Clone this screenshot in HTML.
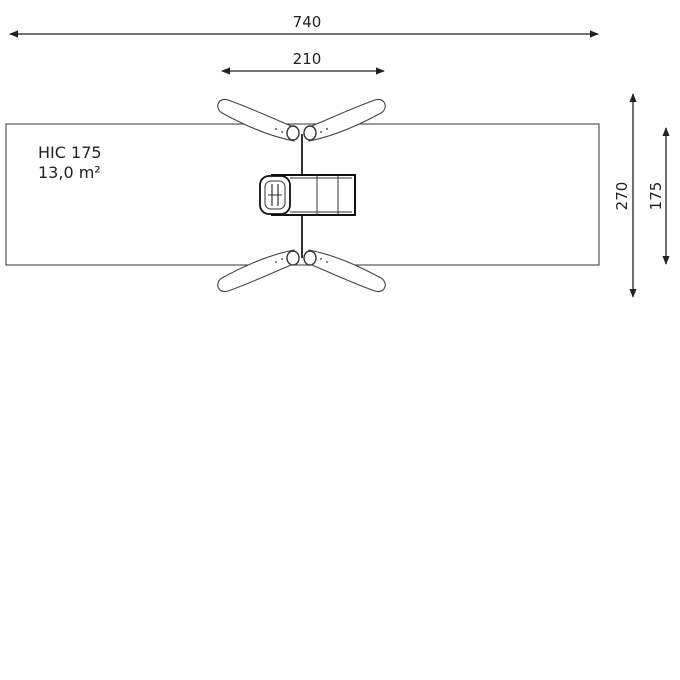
<!DOCTYPE html>
<html><head><meta charset="utf-8"><style>
html,body{margin:0;padding:0;background:#fff;width:680px;height:680px;overflow:hidden}
</style></head><body>
<svg width="680" height="680" viewBox="0 0 680 680" xmlns="http://www.w3.org/2000/svg" font-family="'DejaVu Sans','Liberation Sans',sans-serif">
<defs>
<marker id="a" viewBox="0 0 10 10" refX="9" refY="5" markerWidth="7" markerHeight="7" orient="auto-start-reverse"><path d="M0,1 L10,5 L0,9 Z" fill="#222"/></marker>
<g id="pad">
<path d="M0,-6 C-20,-14 -45,-26 -68,-34 C-78,-37 -82,-26 -74,-21 C-52,-9 -28,2 -2,7 Z" fill="#fff" stroke="#444" stroke-width="1.1"/>
<circle cx="-14" cy="-2" r="0.9" fill="#333"/>
<circle cx="-20" cy="-5" r="0.9" fill="#333"/>
</g>
</defs>
<line x1="10" y1="34" x2="598" y2="34" stroke="#222" stroke-width="1.3" marker-start="url(#a)" marker-end="url(#a)"/>
<text x="307" y="27" font-size="15" text-anchor="middle" fill="#222">740</text>
<line x1="222" y1="71" x2="384" y2="71" stroke="#222" stroke-width="1.3" marker-start="url(#a)" marker-end="url(#a)"/>
<text x="307" y="64" font-size="15" text-anchor="middle" fill="#222">210</text>
<line x1="633" y1="94" x2="633" y2="297" stroke="#222" stroke-width="1.3" marker-start="url(#a)" marker-end="url(#a)"/>
<text transform="translate(627,196) rotate(-90)" font-size="15" text-anchor="middle" fill="#222">270</text>
<line x1="666" y1="128" x2="666" y2="264" stroke="#222" stroke-width="1.3" marker-start="url(#a)" marker-end="url(#a)"/>
<text transform="translate(661,196) rotate(-90)" font-size="15" text-anchor="middle" fill="#222">175</text>
<rect x="6" y="124" width="593" height="141" fill="none" stroke="#333" stroke-width="1"/>
<text x="38" y="158" font-size="16" fill="#222">HIC 175</text>
<text x="38" y="178" font-size="16" fill="#222">13,0 m²</text>
<use href="#pad" transform="translate(296,134)"/>
<use href="#pad" transform="translate(307,134) scale(-1,1)"/>
<use href="#pad" transform="translate(296,257) scale(1,-1)"/>
<use href="#pad" transform="translate(307,257) scale(-1,-1)"/>
<line x1="302" y1="134" x2="302" y2="258" stroke="#333" stroke-width="2"/>
<ellipse cx="293" cy="133" rx="6" ry="7" fill="#fff" stroke="#333" stroke-width="1.4"/>
<ellipse cx="310" cy="133" rx="6" ry="7" fill="#fff" stroke="#333" stroke-width="1.4"/>
<ellipse cx="293" cy="258" rx="6" ry="7" fill="#fff" stroke="#333" stroke-width="1.4"/>
<ellipse cx="310" cy="258" rx="6" ry="7" fill="#fff" stroke="#333" stroke-width="1.4"/>
<rect x="272" y="175" width="83" height="40" fill="#fff" stroke="#111" stroke-width="2"/>
<line x1="317" y1="175" x2="317" y2="215" stroke="#333"/>
<line x1="338" y1="176" x2="338" y2="214" stroke="#333"/>
<line x1="290" y1="178" x2="352" y2="178" stroke="#333" stroke-width="1"/>
<line x1="290" y1="212" x2="352" y2="212" stroke="#333" stroke-width="1"/>
<rect x="260" y="176" width="30" height="38" rx="9" fill="#fff" stroke="#111" stroke-width="1.8"/>
<rect x="265" y="181" width="20" height="28" rx="6" fill="none" stroke="#333"/>
<line x1="272" y1="184" x2="272" y2="206" stroke="#333" stroke-width="1.2"/>
<line x1="278" y1="184" x2="278" y2="206" stroke="#333" stroke-width="1.2"/>
<line x1="268" y1="195" x2="282" y2="195" stroke="#333"/>
</svg>
</body></html>
